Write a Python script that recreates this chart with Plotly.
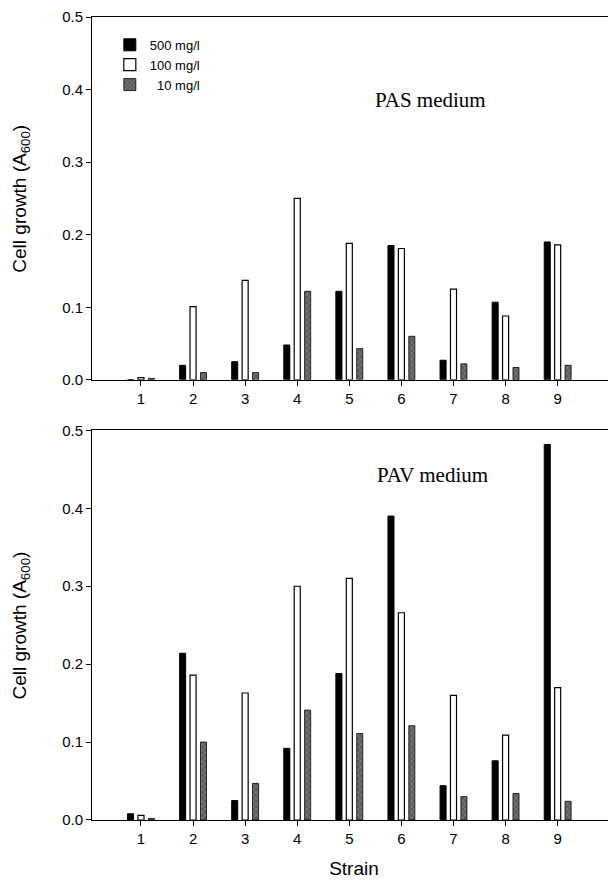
import plotly.graph_objects as go

strains = [1, 2, 3, 4, 5, 6, 7, 8, 9]
tick_labels = ["1", "2", "3", "4", "5", "6", "7", "8", "9"]
series_names = ["500 mg/l", "100 mg/l", "\u00a0\u00a010 mg/l"]

pas_500 = [0.0, 0.020, 0.025, 0.048, 0.122, 0.185, 0.027, 0.107, 0.190]
pas_100 = [0.003, 0.101, 0.137, 0.250, 0.188, 0.181, 0.125, 0.088, 0.186]
pas_10 = [0.002, 0.010, 0.010, 0.122, 0.043, 0.060, 0.022, 0.017, 0.020]

pav_500 = [0.008, 0.214, 0.025, 0.092, 0.188, 0.390, 0.044, 0.076, 0.482]
pav_100 = [0.006, 0.186, 0.163, 0.300, 0.310, 0.266, 0.160, 0.109, 0.170]
pav_10 = [0.002, 0.100, 0.047, 0.141, 0.111, 0.121, 0.030, 0.034, 0.024]

# page body has an 8px default margin, so the figure is drawn 8px smaller
W, H = 608, 878
ML, MR, MT, MB = 84, 0, 2, 66
ph = H - MT - MB

styles = [
    dict(color="black", line=dict(color="black", width=1)),
    dict(color="white", line=dict(color="black", width=1.2)),
    dict(color="#5c5c5c", line=dict(color="black", width=0.8),
         pattern=dict(shape="x", fgcolor="#c8c8c8", bgcolor="#5c5c5c", size=4, solidity=0.25)),
]

fig = go.Figure()
for i, vals in enumerate([pas_500, pas_100, pas_10]):
    fig.add_trace(go.Bar(x=strains, y=vals, name=series_names[i], marker=styles[i],
                         xaxis="x", yaxis="y", showlegend=True))
for i, vals in enumerate([pav_500, pav_100, pav_10]):
    fig.add_trace(go.Bar(x=strains, y=vals, name=series_names[i], marker=styles[i],
                         xaxis="x2", yaxis="y2", showlegend=False))

top_bottom = (812 - 368) / ph
bot_top = (812 - 419) / ph

axis_font = dict(family="Liberation Sans, Arial", size=15, color="black")
xcommon = dict(range=[0.06, 10.12], tickmode="array", tickvals=strains, ticktext=tick_labels,
               showline=True, linecolor="black", linewidth=1, mirror=True,
               ticks="outside", ticklen=5, tickcolor="black", showgrid=False, zeroline=False,
               tickfont=axis_font, fixedrange=True)
ycommon = dict(range=[0, 0.5], tickvals=[0, 0.1, 0.2, 0.3, 0.4, 0.5], tickformat=".1f",
               showline=True, linecolor="black", linewidth=1, mirror=False,
               ticks="outside", ticklen=5, tickcolor="black", showgrid=False, zeroline=False,
               tickfont=axis_font)

fig.update_layout(
    width=W, height=H,
    margin=dict(l=ML, r=MR, t=MT, b=MB),
    paper_bgcolor="white", plot_bgcolor="white",
    barmode="group", bargap=0.4, bargroupgap=0.42,
    xaxis=dict(domain=[0, 1], anchor="y", **xcommon),
    yaxis=dict(domain=[top_bottom, 1], anchor="x", **ycommon),
    xaxis2=dict(domain=[0, 1], anchor="y2",
                title=dict(text="Strain", font=dict(family="Liberation Sans, Arial", size=19, color="black"), standoff=15),
                **xcommon),
    yaxis2=dict(domain=[0, bot_top], anchor="x2", **ycommon),
    legend=dict(x=0.034, y=0.984, xanchor="left", yanchor="top", bgcolor="rgba(0,0,0,0)",
                font=dict(family="Liberation Sans, Arial", size=13, color="black"),
                tracegroupgap=2, itemwidth=30),
    showlegend=True,
)

ytitle = "Cell growth (A<sub>600</sub>)"
for ycenter in [(top_bottom + 1) / 2, bot_top / 2]:
    fig.add_annotation(text=ytitle, xref="paper", yref="paper", x=-0.135, y=ycenter,
                       textangle=-90, showarrow=False, xanchor="center", yanchor="middle",
                       font=dict(family="Liberation Sans, Arial", size=19, color="black"))

fig.add_annotation(text="PAS medium", xref="x", yref="y", x=6.55, y=0.385, showarrow=False,
                   font=dict(family="Liberation Serif, Times New Roman", size=21, color="black"))
fig.add_annotation(text="PAV medium", xref="x2", yref="y2", x=6.6, y=0.443, showarrow=False,
                   font=dict(family="Liberation Serif, Times New Roman", size=21, color="black"))

fig.write_html("out.html")
